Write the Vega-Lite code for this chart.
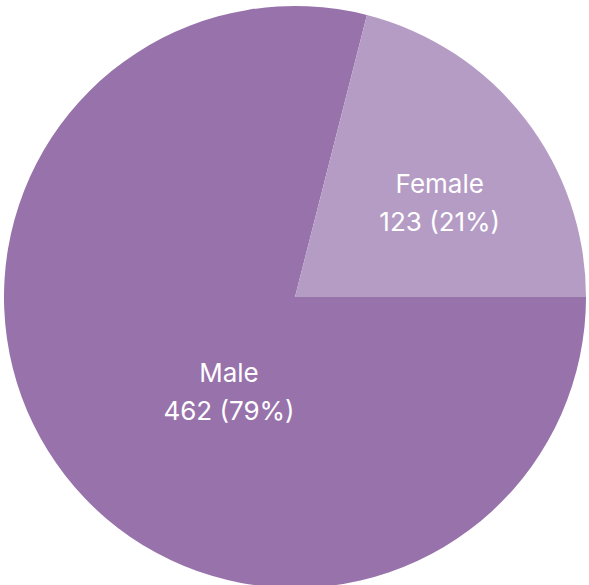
{
  "$schema": "https://vega.github.io/schema/vega-lite/v6.json",
  "width": 590,
  "height": 594,
  "padding": 0,
  "autosize": {"type": "none"},
  "background": "white",
  "view": {"stroke": null},
  "data": {"values": [
    {"gender": "Male", "count": 462},
    {"gender": "Female", "count": 123}
  ]},
  "transform": [
    {"joinaggregate": [{"op": "sum", "field": "count", "as": "total"}]},
    {"calculate": "datum.gender + '\\n' + datum.count + ' (' + format(datum.count / datum.total, '.0%') + ')'", "as": "label"}
  ],
  "encoding": {
    "theta": {"field": "count", "type": "quantitative", "stack": true, "scale": {"range": [1.5708, 7.8540]}},
    "order": {"field": "gender", "sort": "descending"}
  },
  "layer": [
    {
      "mark": {"type": "arc", "outerRadius": 291},
      "encoding": {
        "color": {"field": "gender", "type": "nominal", "scale": {"domain": ["Male", "Female"], "range": ["#9872ab", "#b59cc5"]}, "legend": null}
      }
    },
    {
      "mark": {"type": "text", "radius": 172, "thetaOffset": 0.0897, "dy": -19, "align": "center", "baseline": "middle", "lineBreak": "\n", "fontSize": 26, "lineHeight": 38, "font": "Inter", "color": "white"},
      "encoding": {
        "text": {"condition": {"test": "datum.gender === 'Female'", "field": "label"}, "value": ""}
      }
    },
    {
      "mark": {"type": "text", "radius": 116.5, "thetaOffset": -0.308, "dy": -19, "align": "center", "baseline": "middle", "lineBreak": "\n", "fontSize": 26, "lineHeight": 38, "font": "Inter", "color": "white"},
      "encoding": {
        "text": {"condition": {"test": "datum.gender === 'Male'", "field": "label"}, "value": ""}
      }
    }
  ]
}
